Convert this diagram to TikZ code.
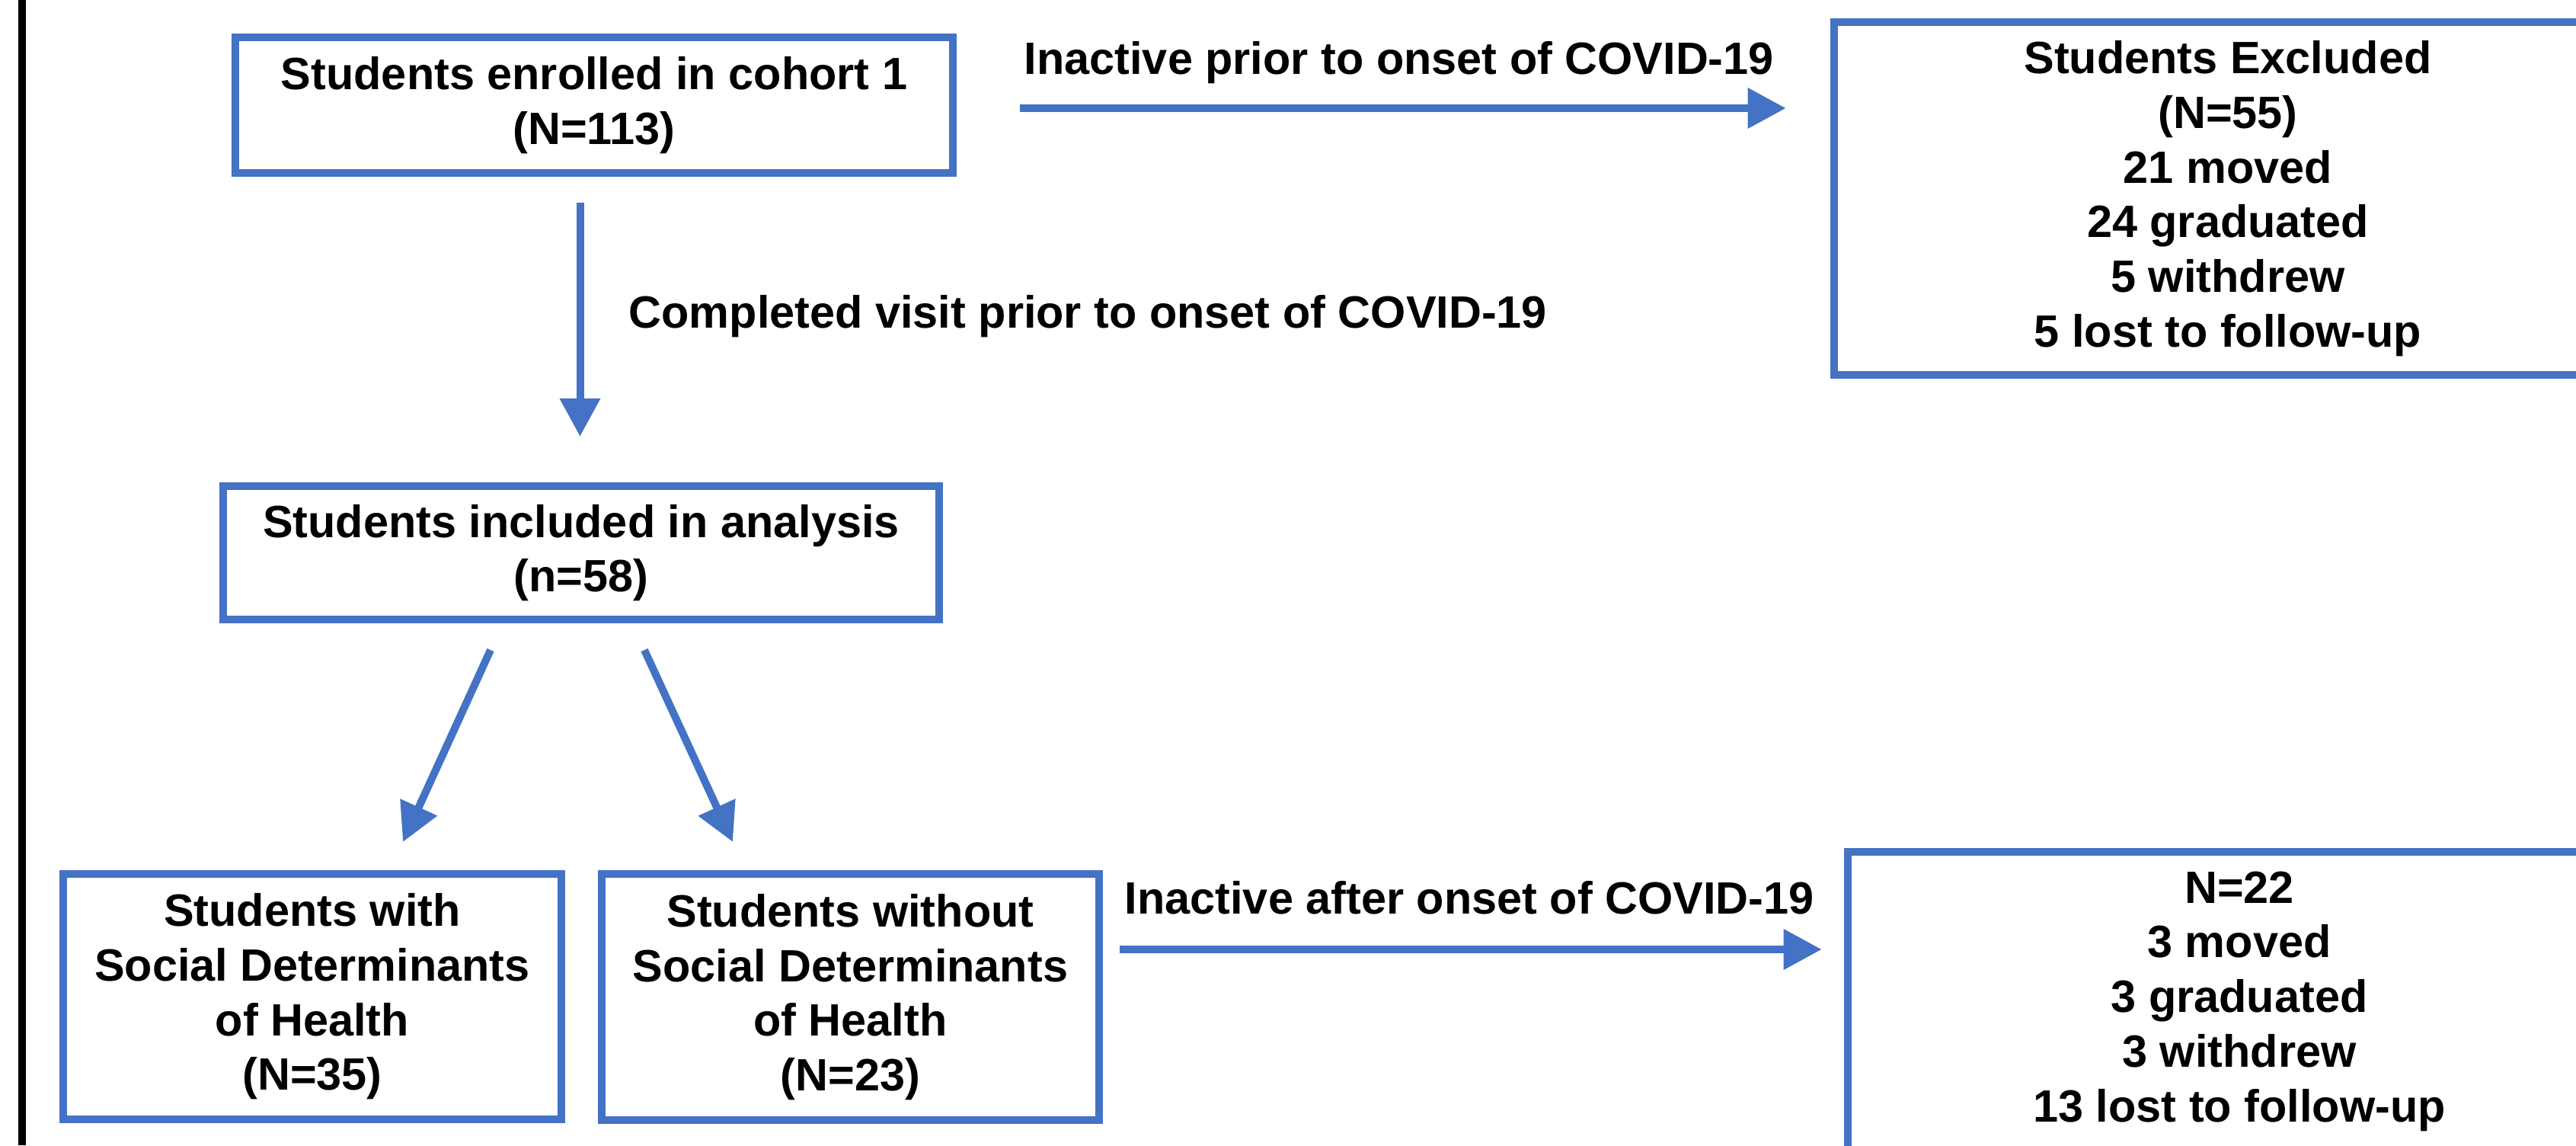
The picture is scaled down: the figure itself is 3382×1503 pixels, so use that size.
\documentclass[tikz,border=0pt]{standalone}
\usepackage{fontspec}
\setmainfont{Liberation Sans}
\usetikzlibrary{arrows.meta}
\definecolor{boxblue}{RGB}{68,114,196}
\begin{document}
\begin{tikzpicture}[x=0.01cm,y=-0.01cm,
  txt/.style={font=\bfseries\fontsize{16.9pt}{20.4pt}\selectfont},
  box/.style={txt, draw=boxblue, line width=0.1cm, inner sep=0pt, align=center, fill=white},
  lbl/.style={txt, inner sep=0pt},
  arr/.style={draw=boxblue, line width=0.1cm, -{Triangle[length=0.5cm,width=0.51cm]}}]
\useasboundingbox (0,0) rectangle (3382,1503);
\clip (0,0) rectangle (3382,1503);
\fill[white] (0,0) rectangle (3382,1503);
\fill[black] (24,0) rectangle (34,1503);

\node[box, minimum width=9.42cm, minimum height=1.78cm] (enrol) at (780,138) {Students enrolled in cohort 1\\(N=113)};
\node[box, minimum width=10.34cm, minimum height=4.63cm] (excl) at (2925,260.5) {Students Excluded\\(N=55)\\21 moved\\24 graduated\\5 withdrew\\5 lost to follow-up};
\node[box, minimum width=9.40cm, minimum height=1.75cm] (incl) at (763,725.5) {Students included in analysis\\(n=58)};
\node[box, minimum width=6.54cm, minimum height=3.22cm] (with) at (410,1308) {Students with\\Social Determinants\\of Health\\(N=35)};
\node[box, minimum width=6.53cm, minimum height=3.23cm] (without) at (1116.5,1308.5) {Students without\\Social Determinants\\of Health\\(N=23)};
\node[box, minimum width=10.28cm, minimum height=3.92cm] (after) at (2940,1314) {N=22\\3 moved\\3 graduated\\3 withdrew\\13 lost to follow-up};

\node[lbl, anchor=base west] (l1) at (1344,98) {Inactive prior to onset of COVID-19};
\node[lbl, anchor=base west] (l2) at (825,430) {Completed visit prior to onset of COVID-19};
\node[lbl, anchor=base west] (l3) at (1476,1199) {Inactive after onset of COVID-19};

\coordinate (a1) at ([shift={(83,4)}]enrol.east);
\draw[arr, shorten >=0.58cm] (a1) -- (a1 -| excl.west);
\coordinate (a2) at ([shift={(-18.5,34)}]enrol.south);
\draw[arr, shorten >=0.6cm] (a2) -- (a2 |- incl.north);
\draw[arr] ([shift={(-119,35)}]incl.south) -- ([shift={(119,-37)}]with.north);
\draw[arr] ([shift={(83,35)}]incl.south) -- ([shift={(-154.5,-37)}]without.north);
\coordinate (a3) at ([shift={(22,-62.5)}]without.east);
\draw[arr, shorten >=0.29cm] (a3) -- (a3 -| after.west);
\end{tikzpicture}
\end{document}
